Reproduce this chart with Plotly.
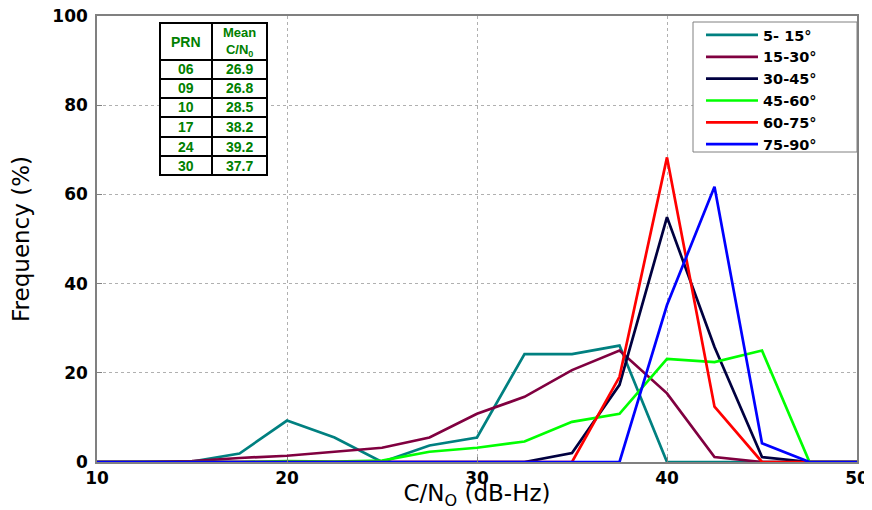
import plotly.graph_objects as go

# ---------------- data ----------------
cn0_bins = [10, 12.5, 15, 17.5, 20, 22.5, 25, 27.5, 30, 32.5, 35, 37.5, 40, 42.5, 45, 47.5, 50]

freq_5_15  = [0, 0, 0.1, 1.9, 9.3, 5.5, 0, 3.7, 5.5, 24.2, 24.2, 26.1, 0, 0, 0, 0, 0]
freq_15_30 = [0, 0, 0.2, 0.9, 1.4, 2.3, 3.2, 5.5, 10.8, 14.6, 20.6, 25.0, 15.4, 1.1, 0, 0, 0]
freq_30_45 = [0, 0, 0, 0, 0, 0, 0, 0, 0, 0, 2.0, 17.3, 54.9, 25.8, 1.1, 0, 0]
freq_45_60 = [0, 0, 0, 0, 0.2, 0.1, 0.3, 2.3, 3.2, 4.6, 9.0, 10.8, 23.1, 22.4, 25.0, 0, 0]
freq_60_75 = [0, 0, 0, 0, 0, 0, 0, 0, 0, 0, 0, 19.1, 68.3, 12.4, 0, 0, 0]
freq_75_90 = [0, 0, 0, 0, 0, 0, 0, 0, 0, 0, 0, 0, 35.2, 61.7, 4.2, 0, 0]

series_names = ["5- 15°", "15-30°", "30-45°", "45-60°", "60-75°", "75-90°"]
series_values = [freq_5_15, freq_15_30, freq_30_45, freq_45_60, freq_60_75, freq_75_90]
series_colors = ["#008080", "#800040", "#000040", "#00ff00", "#ff0000", "#0000ff"]

table_prn = ["06", "09", "10", "17", "24", "30"]
table_mean_cn0 = [26.9, 26.8, 28.5, 38.2, 39.2, 37.7]

x_ticks = [10, 20, 30, 40, 50]
y_ticks = [0, 20, 40, 60, 80, 100]

# ---------------- figure ----------------
# page body has an 8px margin, so the figure is offset by 8px
OFF = 8
SW, SH = 872, 510                      # screen size
PL, PT, PR, PB = 97, 16, 857, 462      # plot area on screen
W, H = SW - OFF, SH - OFF
L, T = PL - OFF, PT - OFF
R, B = SW - PR, SH - PB
PW, PH = PR - PL, PB - PT

def px(xs):
    return (xs - PL) / PW

def py(ys):
    return (PB - ys) / PH

FONT = "DejaVu Sans, Arial, sans-serif"
TFONT = "Arial, Liberation Sans, sans-serif"

fig = go.Figure()
for name, vals, col in zip(series_names, series_values, series_colors):
    fig.add_trace(go.Scatter(x=cn0_bins, y=vals, mode="lines", name=name,
                             line=dict(color=col, width=2.7)))

axis_common = dict(
    showline=True, linecolor="#808080", linewidth=1.5, mirror=True,
    ticks="inside", ticklen=5, tickcolor="#808080",
    showgrid=True, gridcolor="#b0b0b0", griddash="dot", gridwidth=1,
    zeroline=False, automargin=False, ticklabeloverflow="allow",
    tickfont=dict(family=FONT, size=17, color="black", weight="bold"),
)

fig.update_xaxes(range=[10, 50], tickvals=x_ticks, **axis_common,
                 title=dict(text="C/N<sub>O</sub> (dB-Hz)", standoff=5,
                            font=dict(family=FONT, size=23, color="black")))
fig.update_yaxes(range=[0, 100], tickvals=y_ticks, ticklabelstandoff=4, **axis_common,
                 title=dict(text="Frequency (%)", standoff=20,
                            font=dict(family=FONT, size=23, color="black")))

# legend frame (drawn as a shape so its size matches the reference box)
fig.add_shape(type="rect", xref="paper", yref="paper",
              x0=px(693), x1=px(857), y0=py(152), y1=py(22),
              line=dict(color="#808080", width=1), fillcolor="white", layer="above")

fig.update_layout(
    width=W, height=H,
    margin=dict(l=L, r=R, t=T, b=B, autoexpand=False),
    plot_bgcolor="white", paper_bgcolor="white",
    legend=dict(x=px(701), y=py(19), xanchor="left", yanchor="top",
                bgcolor="rgba(0,0,0,0)", borderwidth=0,
                font=dict(family=FONT, size=14.5, color="black", weight="bold"),
                tracegroupgap=0, itemwidth=52),
)

# ---------------- inset table ----------------
tx0, txm, tx1 = 160, 212, 267
row_edges = [23, 60, 79, 98, 117, 137, 156, 175]
green = "#008000"
line_style = dict(color="black", width=2)

fig.add_shape(type="rect", xref="paper", yref="paper",
              x0=px(tx0), x1=px(tx1), y0=py(row_edges[-1]), y1=py(row_edges[0]),
              line=line_style, fillcolor="white", layer="above")
fig.add_shape(type="line", xref="paper", yref="paper",
              x0=px(txm), x1=px(txm), y0=py(row_edges[-1]), y1=py(row_edges[0]),
              line=line_style, layer="above")
for ye in row_edges[1:-1]:
    fig.add_shape(type="line", xref="paper", yref="paper",
                  x0=px(tx0), x1=px(tx1), y0=py(ye), y1=py(ye),
                  line=line_style, layer="above")

cell_font = dict(family=TFONT, size=14, color=green, weight="bold")
ann_common = dict(xref="paper", yref="paper", showarrow=False,
                  xanchor="center", yanchor="middle")
fig.add_annotation(x=px((tx0 + txm) / 2), y=py((row_edges[0] + row_edges[1]) / 2),
                   text="PRN", font=cell_font, **ann_common)
fig.add_annotation(x=px((txm + tx1) / 2), y=py((row_edges[0] + row_edges[1]) / 2),
                   text="Mean<br>C/N<sub>0</sub>",
                   font=dict(family=TFONT, size=13, color=green, weight="bold"), **ann_common)
for i, (p, m) in enumerate(zip(table_prn, table_mean_cn0)):
    yc = py((row_edges[i + 1] + row_edges[i + 2]) / 2)
    fig.add_annotation(x=px((tx0 + txm) / 2), y=yc, text=p, font=cell_font, **ann_common)
    fig.add_annotation(x=px((txm + tx1) / 2), y=yc, text=f"{m:.1f}", font=cell_font, **ann_common)

fig.write_html("out.html")
